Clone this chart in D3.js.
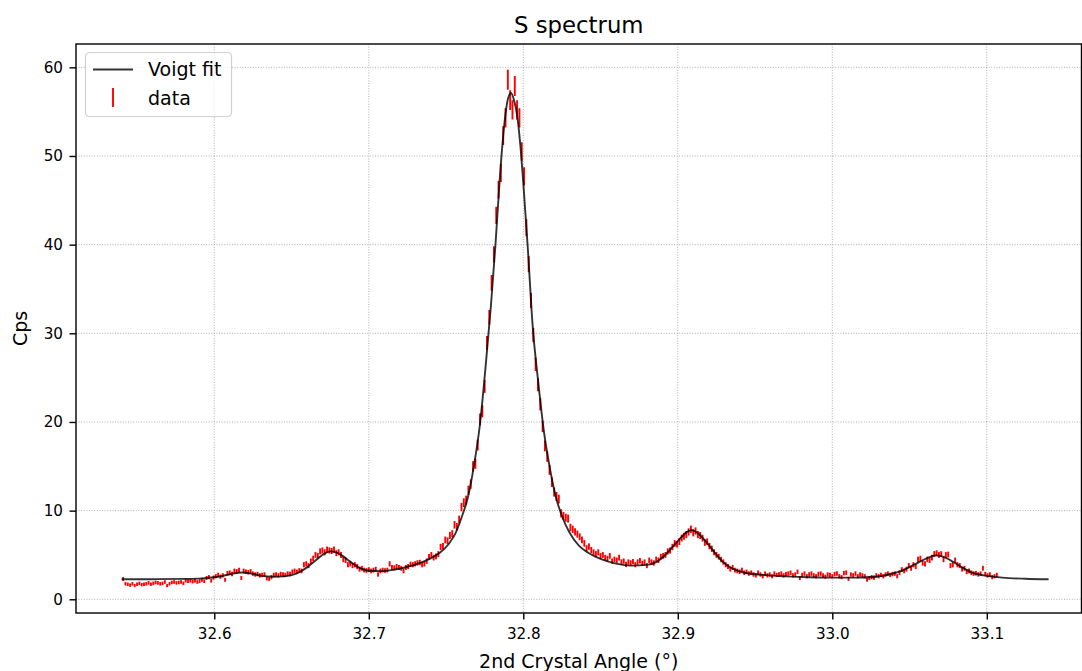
<!DOCTYPE html>
<html>
<head>
<meta charset="utf-8">
<script src="https://cdn.jsdelivr.net/npm/d3@7"></script>
<style>
  body { margin: 0; background: #fff; }
  svg { display: block; font-family: "DejaVu Sans", sans-serif; }
</style>
</head>
<body>
<svg id="chart" width="1082" height="671"></svg>
<script>
// scan grid of the 2nd crystal (deg) and counting time per step (s)
const scanStart = 32.541, scanStep = 0.0015, countTime = 46;

// measured count rate at each scan step
const cps = [
  2.3, 1.75, 1.7, 1.6, 1.75, 1.55, 1.7, 1.8, 1.65, 1.7,
  1.75, 1.85, 1.7, 1.8, 1.9, 1.85, 1.75, 1.8, 1.95, 1.55,
  1.75, 1.9, 1.95, 1.85, 1.9, 1.95, 1.8, 2.1, 2.05, 2.1,
  2.0, 2.1, 1.95, 2.05, 2.2, 2.05, 2.4, 2.5, 2.1, 2.45,
  2.6, 2.75, 2.55, 2.7, 2.2, 2.95, 3.0, 2.85, 3.2, 3.15,
  3.3, 2.4, 3.2, 3.1, 3.05, 3.15, 2.9, 2.8, 2.85, 2.7,
  2.75, 2.8, 2.35, 2.3, 2.5, 2.75, 2.8, 2.7, 2.85, 2.8,
  2.75, 2.9, 2.85, 3.1, 3.2, 3.1, 3.25, 3.2, 3.9, 4.0,
  3.8,
  4.3, 4.6, 5.0, 4.9, 5.4, 5.5, 5.3, 5.6, 5.5,
  5.45, 5.6, 5.2, 5.3, 5.0, 4.5, 4.4, 3.9, 4.0, 3.8,
  3.9, 3.7, 3.4, 3.5, 3.3, 3.25, 3.35, 3.2, 3.3, 3.4,
  2.8, 3.2, 3.3, 3.25, 3.3, 4.0, 3.6, 3.55, 3.7, 3.6,
  3.5, 3.2, 3.6, 3.7, 3.95, 3.9, 4.0, 4.1, 4.15, 3.9,
  4.0, 4.3, 4.8, 5.0, 4.7, 4.85, 5.1, 5.9, 6.0, 6.7,
  6.6, 7.2, 7.4,
  8.4, 8.2, 9.0, 10.4, 10.9, 11.2, 12.3,
  13.0, 15.0, 15.3, 17.4, 20.3, 21.2, 24.0, 28.9, 31.8, 35.7,
  38.9, 43.3, 46.2, 48.1, 52.3, 54.3, 58.6, 56.3, 55.2, 57.9,
  55.2, 54.3, 50.5, 47.7, 41.9, 37.8, 33.7, 29.8, 26.5, 24.2,
  22.0, 19.5, 17.3, 16.1, 14.6, 13.2, 12.1, 11.6, 11.3, 9.7,
  9.4, 9.2, 9.1,
  8.1, 7.9, 7.6, 7.35, 7.05, 6.7, 6.3,
  5.75, 5.95, 5.55, 5.3, 5.1, 5.3, 4.9, 5.0, 4.7, 4.6,
  4.9, 4.3, 4.5, 4.4, 4.7, 4.2, 4.3, 3.95, 4.2, 4.1,
  4.25, 3.9, 4.2, 4.35, 4.05, 4.2, 3.8, 4.4, 4.2, 4.1,
  4.5, 4.4, 4.8, 4.9, 5.0, 5.4, 5.5, 5.9, 6.3, 6.2,
  6.5, 6.9, 7.1, 7.3, 7.6, 7.9, 7.5, 7.7, 7.3, 7.2,
  6.9, 6.4, 6.5, 6.0, 5.7, 5.3, 5.0, 4.8, 4.5, 4.2,
  3.9, 3.7, 3.4, 3.6, 3.3, 3.2, 3.1, 3.3, 3.0, 3.1,
  2.9, 3.0, 2.8, 2.7, 3.0, 2.8, 2.6, 2.9, 2.7, 2.8,
  2.6, 2.9, 2.75, 2.8, 2.9, 2.7, 2.85, 2.9, 3.0, 2.7,
  2.8, 3.1, 2.4, 2.75, 2.9, 2.6, 2.8, 2.9, 2.7, 2.6,
  2.85, 2.9, 2.7, 2.55, 2.8, 2.75, 2.6, 2.85, 2.9, 2.6,
  2.5, 2.95, 3.0, 2.3, 2.8, 2.7, 2.9, 2.6, 2.8, 2.7,
  2.6, 2.2, 2.4, 2.5, 2.45, 2.7, 2.6, 2.75, 2.6, 2.8,
  2.9, 2.75, 2.85, 2.9, 2.6, 3.0, 3.35, 3.2, 3.4, 3.8,
  3.5, 3.9, 3.7, 4.5, 4.6, 4.1, 4.0, 4.5, 4.4, 4.7,
  5.1, 5.2, 5.0, 5.1, 4.5, 5.0, 5.05, 3.8, 3.9, 4.4,
  3.9, 3.8, 3.4, 3.5, 3.1, 3.2, 3.0, 2.9, 2.95, 2.8,
  2.9, 3.5, 2.85, 2.7, 2.8, 2.5, 2.6, 2.75
];

// Voigt fit curve
const fitAngle = [
  32.540, 32.560, 32.580, 32.592, 32.600, 32.606, 32.612, 32.618, 32.624, 32.631,
  32.638, 32.645, 32.650, 32.655, 32.660, 32.665, 32.670, 32.675, 32.679, 32.683,
  32.688, 32.694, 32.700, 32.708, 32.716, 32.724, 32.732, 32.740, 32.746, 32.752,
  32.756, 32.760, 32.764, 32.768, 32.772, 32.776, 32.779, 32.782, 32.785, 32.788,
  32.790, 32.792, 32.794, 32.796, 32.798, 32.800, 32.803, 32.806, 32.810, 32.813,
  32.817, 32.821, 32.825, 32.830, 32.836, 32.842, 32.850, 32.860, 32.870, 32.880,
  32.886, 32.891, 32.896, 32.901, 32.906, 32.909, 32.913, 32.918, 32.923, 32.929,
  32.935, 32.942, 32.955, 32.970, 32.985, 33.000, 33.015, 33.028, 33.038, 33.046,
  33.054, 33.061, 33.067, 33.071, 33.076, 33.083, 33.090, 33.098, 33.110, 33.125,
  33.140
];
const fitCps = [
  2.26, 2.27, 2.30, 2.36, 2.48, 2.66, 2.90, 3.02, 2.90, 2.64,
  2.55, 2.58, 2.72, 3.05, 3.60, 4.30, 5.00, 5.40, 5.30, 4.90,
  4.25, 3.55, 3.22, 3.18, 3.33, 3.62, 4.02, 4.62, 5.25, 6.30,
  7.40, 9.20, 11.4, 15.0, 19.8, 27.0, 33.0, 40.0, 48.0, 54.0,
  56.4, 57.1, 56.3, 54.6, 51.4, 47.0, 39.4, 31.0, 24.0, 19.4,
  15.0, 11.6, 9.40, 7.50, 6.05, 5.25, 4.55, 4.02, 3.80, 3.88,
  4.20, 4.85, 5.80, 6.75, 7.60, 7.80, 7.45, 6.55, 5.45, 4.25,
  3.50, 3.05, 2.75, 2.58, 2.48, 2.44, 2.45, 2.55, 2.85, 3.30,
  4.00, 4.62, 4.95, 4.85, 4.45, 3.70, 3.05, 2.70, 2.45, 2.32,
  2.26
];

const xTicks = [32.6, 32.7, 32.8, 32.9, 33.0, 33.1];
const yTicks = [0, 10, 20, 30, 40, 50, 60];

const W = 1082, H = 671;
const plot = { left: 76, right: 1081.5, top: 44, bottom: 613 };

const svg = d3.select("#chart");
svg.append("rect").attr("width", W).attr("height", H).attr("fill", "#fff");

const x = d3.scaleLinear().domain([32.5105, 33.1613]).range([plot.left, plot.right]);
const y = d3.scaleLinear().domain([-1.545, 62.63]).range([plot.bottom, plot.top]);

// grid
const grid = svg.append("g")
  .attr("stroke", "#8c8c8c").attr("stroke-width", 0.7).attr("stroke-dasharray", "1,1.6");
grid.selectAll(".gx").data(xTicks).enter().append("line")
  .attr("x1", d => x(d)).attr("x2", d => x(d))
  .attr("y1", plot.top).attr("y2", plot.bottom);
grid.selectAll(".gy").data(yTicks).enter().append("line")
  .attr("x1", plot.left).attr("x2", plot.right)
  .attr("y1", d => y(d)).attr("y2", d => y(d));

// data with counting error bars
const points = cps.map((v, i) => ({
  angle: scanStart + scanStep * i,
  cps: v,
  err: Math.sqrt(v / countTime)
}));

svg.append("defs").append("clipPath").attr("id", "clip")
  .append("rect").attr("x", plot.left).attr("y", plot.top)
  .attr("width", plot.right - plot.left).attr("height", plot.bottom - plot.top);

const body = svg.append("g").attr("clip-path", "url(#clip)");

body.append("g").selectAll("line").data(points).enter().append("line")
  .attr("x1", d => x(d.angle)).attr("x2", d => x(d.angle))
  .attr("y1", d => y(d.cps - d.err)).attr("y2", d => y(d.cps + d.err))
  .attr("stroke", "#ff0000").attr("stroke-width", 1.9);

const fitLine = d3.line()
  .x((d, i) => x(fitAngle[i]))
  .y(d => y(d))
  .curve(d3.curveMonotoneX);

body.append("path").datum(fitCps)
  .attr("d", fitLine)
  .attr("fill", "none")
  .attr("stroke", "#000").attr("stroke-opacity", 0.8)
  .attr("stroke-width", 1.9);

// axes
const xAxis = svg.append("g").attr("transform", `translate(0,${plot.bottom})`)
  .call(d3.axisBottom(x).tickValues(xTicks).tickFormat(d3.format(".1f"))
    .tickSize(6.5).tickPadding(11.5));
const yAxis = svg.append("g").attr("transform", `translate(${plot.left},0)`)
  .call(d3.axisLeft(y).tickValues(yTicks).tickFormat(d3.format("d"))
    .tickSize(6.5).tickPadding(6.5));
[xAxis, yAxis].forEach(a => {
  a.select(".domain").remove();
  a.selectAll(".tick line").attr("stroke", "#000").attr("stroke-width", 1.4);
  a.selectAll(".tick text").attr("fill", "#000")
    .style("font-size", "15.2px").style("font-family", "DejaVu Sans, sans-serif");
});
xAxis.selectAll(".tick text").attr("dy", "0.5em");

// frame
svg.append("rect")
  .attr("x", plot.left).attr("y", plot.top)
  .attr("width", plot.right - plot.left).attr("height", plot.bottom - plot.top)
  .attr("fill", "none").attr("stroke", "#000").attr("stroke-width", 1.4);

// titles
svg.append("text").attr("x", (plot.left + plot.right) / 2).attr("y", 33)
  .attr("text-anchor", "middle").style("font-size", "22.8px").text("S spectrum");
svg.append("text").attr("x", (plot.left + plot.right) / 2).attr("y", 668)
  .attr("text-anchor", "middle").style("font-size", "19px").text("2nd Crystal Angle (°)");
svg.append("text")
  .attr("transform", `translate(27,${(plot.top + plot.bottom) / 2}) rotate(-90)`)
  .attr("text-anchor", "middle").style("font-size", "19px").text("Cps");

// legend
const lg = svg.append("g");
lg.append("rect").attr("x", 85.5).attr("y", 52.5).attr("width", 146).attr("height", 64)
  .attr("rx", 4).attr("fill", "#fff").attr("fill-opacity", 0.8)
  .attr("stroke", "#d0d0d0").attr("stroke-width", 1.2);
lg.append("line").attr("x1", 93).attr("x2", 133).attr("y1", 69.5).attr("y2", 69.5)
  .attr("stroke", "#000").attr("stroke-opacity", 0.8).attr("stroke-width", 1.9);
lg.append("line").attr("x1", 113).attr("x2", 113).attr("y1", 88).attr("y2", 107)
  .attr("stroke", "#ff0000").attr("stroke-width", 1.9);
lg.append("text").attr("x", 148).attr("y", 76).style("font-size", "19px").text("Voigt fit");
lg.append("text").attr("x", 148).attr("y", 104.5).style("font-size", "19px").text("data");
</script>
</body>
</html>
